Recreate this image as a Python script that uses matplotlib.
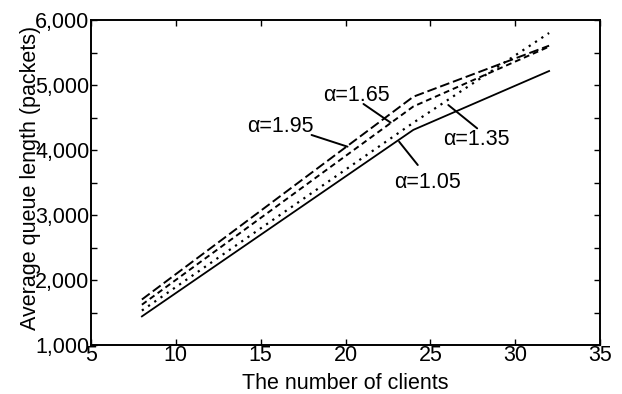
import matplotlib
matplotlib.use("Agg")
import matplotlib.pyplot as plt
from matplotlib.ticker import MultipleLocator, FuncFormatter

plt.rcParams['font.family'] = ['Liberation Sans', 'DejaVu Sans']

clients = [8, 24, 32]
q_105 = [1440, 4310, 5215]
q_135 = [1530, 4420, 5800]
q_165 = [1620, 4670, 5590]
q_195 = [1700, 4820, 5605]
labels = ["α=1.05", "α=1.35", "α=1.65", "α=1.95"]

fig = plt.figure(figsize=(6.22, 3.94), dpi=100)
ax = fig.add_axes([91/622, 1-345/394, (600-91)/622, (345-20)/394])

ax.plot(clients, q_105, color='black', lw=1.3, ls='-')
ax.plot(clients, q_135, color='black', lw=1.6, ls=(0, (1.0, 2.4)))
ax.plot(clients, q_165, color='black', lw=1.4, ls=(0, (3.0, 2.0)))
ax.plot(clients, q_195, color='black', lw=1.4, ls=(0, (5.0, 2.0)))

ax.set_xlim(5, 35)
ax.set_ylim(1000, 6000)
ax.xaxis.set_major_locator(MultipleLocator(5))
ax.yaxis.set_major_locator(MultipleLocator(1000))
ax.yaxis.set_minor_locator(MultipleLocator(500))
ax.yaxis.set_major_formatter(FuncFormatter(lambda v, p: f"{int(v):,}"))
fs = 15.5
ax.tick_params(which='both', direction='in', top=True, right=True, length=4, width=1.0,
               labelsize=fs)
ax.tick_params(axis='x', pad=0)
ax.tick_params(axis='y', pad=1)
for s in ax.spines.values():
    s.set_linewidth(1.4)

ax.set_xlabel("The number of clients", fontsize=fs, va='center')
ax.xaxis.set_label_coords(0.5, -0.118)
ax.set_ylabel("Average queue length (packets)", fontsize=fs, va='center')
ax.yaxis.set_label_coords(-0.118, 0.515)

ann = [
    (labels[2], (20.66, 4846), (21.06, 4708), (22.66, 4421)),
    (labels[3], (16.16, 4369), (18.0, 4231), (20.12, 4051)),
    (labels[1], (27.7, 4169), (27.76, 4333), (26.06, 4692)),
    (labels[0], (24.86, 3497), (24.26, 3769), (23.16, 4128)),
]
for txt, tpos, start, tip in ann:
    ax.text(tpos[0], tpos[1], txt, fontsize=fs, ha='center', va='center')
    ax.annotate('', xy=tip, xytext=start,
                arrowprops=dict(arrowstyle='-', color='black', lw=1.4,
                                shrinkA=0, shrinkB=0))

fig.savefig("out.png", dpi=100)
